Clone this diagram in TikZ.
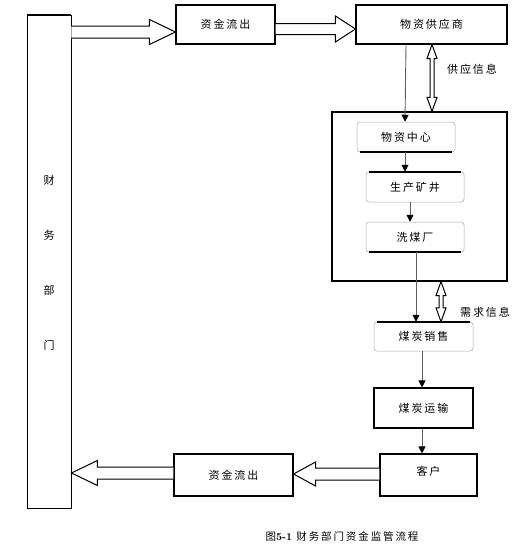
\documentclass[tikz,border=0pt]{standalone}
\usepackage{fontspec}
\newfontfamily\cjk[LetterSpace=18]{Noto Sans CJK SC}
\newfontfamily\cjkc{Noto Sans CJK SC}
\usetikzlibrary{calc,arrows.meta}
\tikzset{
  box/.style={draw=black,line width=1.1pt,inner sep=0pt,font=\cjk\fontsize{11}{13}\selectfont},
  rbox/.style={draw=gray!70,line width=0.5pt,rounded corners=3pt,inner sep=0pt,font=\cjk\fontsize{11}{13}\selectfont},
  edge/.style={line width=1.6pt,black},
  flow/.style={draw=gray!75!black,line width=0.9pt,-{Triangle[length=7pt,width=7pt,black]}},
  fat/.style={draw=black,line width=1pt,fill=white,line join=miter},
  lbl/.style={font=\cjk\fontsize{11}{13}\selectfont,inner sep=0pt}
}
\newcommand\fatarr[5]{%
  \draw[fat] ($(#1)+(0,#4)$) -- ($(#2)+(#3,#4)$) -- ($(#2)+(#3,#5)$) -- (#2)
    -- ($(#2)+(#3,-#5)$) -- ($(#2)+(#3,-#4)$) -- ($(#1)+(0,-#4)$);}
\newcommand\dblarr[2]{%
  \draw[fat] (#1) -- ($(#1)+(5,14)$) -- ($(#1)+(2,14)$) -- ($(#2)+(2,-14)$) -- ($(#2)+(5,-14)$)
    -- (#2) -- ($(#2)+(-5,-14)$) -- ($(#2)+(-2,-14)$) -- ($(#1)+(-2,14)$) -- ($(#1)+(-5,14)$) -- cycle;}
\begin{document}
\begin{tikzpicture}[x=1pt,y=-1pt]
\useasboundingbox (0,0) rectangle (529,546);
% finance department
\node[draw=black,line width=0.9pt,minimum width=44pt,minimum height=493pt,inner sep=0pt] (fin) at (49,261.5) {};
\draw[edge] (fin.north west) -- (fin.north east);
\draw[edge] (fin.south west) -- (fin.south east);
\node[lbl,font=\cjkc\fontsize{11}{13}\selectfont,align=center] (fintext) at (49,263)
  {财\\[42pt]务\\[42pt]部\\[42pt]门};
% top boxes
\node[box,minimum width=99pt,minimum height=39pt] (out1) at (225.5,24.5) {资金流出};
\node[box,minimum width=151pt,minimum height=39pt] (sup) at (431.5,24.5) {物资供应商};
% big container
\node[draw=black,line width=1.1pt,minimum width=175pt,minimum height=169pt,inner sep=0pt] (big) at (419.5,196.5) {};
% inner rounded boxes
\node[rbox,minimum width=98pt,minimum height=30pt] (wz) at (406,137) {物资中心};
\draw[edge] ($(wz.south west)+(3,0)$) -- ($(wz.south east)+(-3,0)$);
\node[rbox,minimum width=98pt,minimum height=30pt] (sc) at (415,187) {生产矿井};
\draw[edge] ($(sc.north west)+(3,0)$) -- ($(sc.north east)+(-3,0)$);
\node[rbox,minimum width=98pt,minimum height=30pt] (xm) at (415,237) {洗煤厂};
\draw[edge] ($(xm.south west)+(3,0)$) -- ($(xm.south east)+(-3,0)$);
% lower chain
\node[rbox,minimum width=99pt,minimum height=29pt] (xs) at (423.5,336.5) {煤炭销售};
\draw[edge] ($(xs.north west)+(3,0)$) -- ($(xs.north east)+(-3,0)$);
\node[box,minimum width=99pt,minimum height=40pt] (ys) at (423.5,408) {煤炭运输};
\node[box,minimum width=97pt,minimum height=42pt,text depth=8pt] (kh) at (428.5,475) {客户};
\node[box,minimum width=119pt,minimum height=42pt] (out2) at (233.5,475) {资金流出};
% flow arrows
\draw[flow] (wz.north |- sup.south) -- ($(wz.north)+(-1,0)$);
\draw[flow] ($(wz.south)+(-1,0)$) -- ($(wz.south |- sc.north)+(-1,0)$);
\draw[flow] ($(sc.south)+(-5,0)$) -- ($(xm.north)+(-5,0)$);
\draw[flow] ($(xm.south)+(1,0)$) -- ($(xm.south |- xs.north)+(1,0)$);
\draw[flow] ($(xs.south)+(-1.5,0)$) -- ($(xs.south |- ys.north)+(-1.5,0)$);
\draw[flow] ($(ys.south)+(-1.5,0)$) -- ($(ys.south |- kh.north)+(-1.5,0)$);
% helper y-levels
\coordinate (ya) at (0,32);
\coordinate (yb) at (0,29);
\coordinate (yc) at (0,474);
\coordinate (yd) at (0,473);
\coordinate (xa) at (432,0);
\coordinate (xb) at (441,0);
% hollow arrows
\fatarr{fin.east |- ya}{out1.west |- ya}{-26}{6}{12.5}
\fatarr{out1.east |- yb}{sup.west |- yb}{-20}{5.5}{13}
\fatarr{kh.west |- yc}{out2.east |- yc}{22}{6}{12}
\fatarr{out2.west |- yd}{fin.east |- yd}{26}{6}{12.5}
% double info arrows
\coordinate (d1a) at (xa |- sup.south);
\coordinate (d1b) at (xa |- big.north);
\dblarr{d1a}{d1b}
\coordinate (d2a) at (xb |- big.south);
\coordinate (d2b) at (xb |- xs.north);
\dblarr{d2a}{d2b}
\node[lbl] (l1) at (472,69) {供应信息};
\node[lbl] (l2) at (485,312) {需求信息};
% caption
\node[inner sep=0pt,font=\cjk\fontsize{10.5}{12}\selectfont] (cap) at (342,536)
  {图{\normalfont\bfseries 5-1} 财务部门资金监管流程};
\end{tikzpicture}
\end{document}
